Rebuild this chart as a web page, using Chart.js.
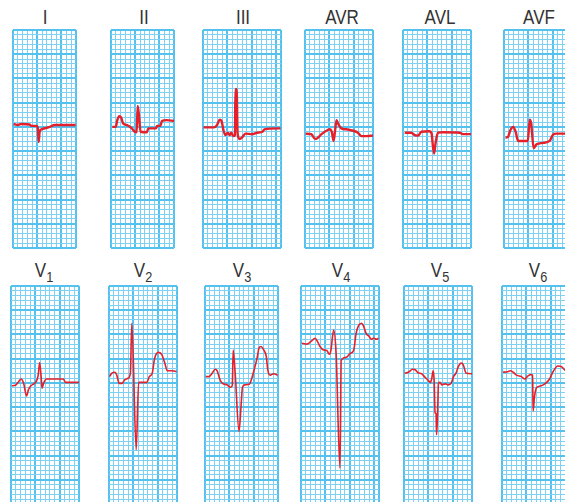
<!DOCTYPE html>
<html>
<head>
<meta charset="utf-8">
<script src="https://cdn.jsdelivr.net/npm/chart.js@4.4.1/dist/chart.umd.min.js"></script>
<style>
  html, body { margin: 0; padding: 0; background: #fff; }
  #page { position: relative; width: 565px; height: 502px; overflow: hidden; }
  .strip { position: absolute; }
  .lbl {
    position: absolute; width: 80px; text-align: center;
    font-family: "Liberation Sans", Arial, sans-serif;
    font-size: 20px; line-height: 20px; color: #333;
    transform: scaleX(0.85);
  }
  .lbl span { font-size: 15px; position: relative; top: 5px; }
</style>
</head>
<body>
<div id="page"></div>
<script>
// lead names
const topLeads = ['I', 'II', 'III', 'AVR', 'AVL', 'AVF'];
const chestLeads = ['1', '2', '3', '4', '5', '6'];

// traces: [mm along the strip, mm above the strip's bottom edge]
const leadI = [[0.15,25.6],[1.0,25.4],[1.7,25.6],[3.4,25.5],[3.8,25.2],[4.8,25.2],[5.1,24.9],[5.3,21.9],[5.5,24.0],[5.9,24.5],[6.9,24.8],[7.6,25.0],[8.6,25.4],[12.9,25.4]];
const leadII = [[0.27,25.0],[0.97,25.0],[1.3,26.4],[1.7,27.2],[2.1,26.9],[2.5,25.7],[3.2,25.4],[4.3,24.7],[4.9,24.0],[5.3,23.9],[5.5,29.3],[5.8,27.1],[6.1,24.0],[7.4,23.9],[7.7,24.7],[9.3,24.7],[9.5,25.2],[10.2,25.2],[10.5,26.2],[11.5,26.4],[13.0,26.2]];
const leadIII = [[0.1,24.9],[2.2,24.9],[2.9,25.4],[3.4,26.5],[3.8,26.2],[4.2,24.3],[4.6,23.3],[5.1,23.8],[5.5,23.3],[5.8,23.8],[6.2,23.1],[6.55,23.3],[6.65,32.8],[6.9,32.8],[7.1,23.6],[7.5,22.5],[8.0,22.8],[8.7,23.6],[10.1,23.5],[11.1,23.8],[12.2,24.0],[12.6,24.5],[15.9,24.7]];
const leadAVR = [[0.15,23.6],[1.3,23.5],[1.8,22.8],[2.2,22.5],[2.7,22.8],[3.4,23.5],[4.4,24.2],[5.1,24.5],[5.5,24.0],[5.9,22.1],[6.2,24.3],[6.5,26.4],[6.8,25.7],[7.5,24.7],[8.5,24.5],[9.9,24.2],[10.9,23.8],[11.6,23.1],[12.7,23.1],[14.0,23.2]];
const leadAVL = [[0.35,23.8],[1.7,23.8],[2.4,23.3],[3.1,23.2],[3.8,24.0],[5.4,24.1],[5.9,23.6],[6.1,21.6],[6.4,19.5],[6.7,21.6],[7.2,23.8],[8.2,23.9],[11.7,23.8],[12.4,23.5],[14.0,23.5]];
const leadAVF = [[0.3,22.8],[0.8,22.9],[1.3,24.3],[1.9,25.0],[2.4,24.0],[2.9,22.1],[3.9,22.1],[4.9,22.1],[5.3,26.5],[5.6,25.7],[6.1,20.6],[6.7,21.4],[8.0,21.7],[9.4,22.1],[10.1,23.4],[10.8,23.6],[14.0,23.6]];
const leadV1 = [[0.2,24.4],[0.9,24.5],[1.6,25.3],[2.1,25.8],[2.6,24.9],[3.2,22.3],[3.6,23.6],[4.1,24.4],[4.7,24.8],[5.2,25.3],[5.6,26.6],[5.9,29.2],[6.2,26.3],[6.4,23.9],[6.7,24.9],[7.3,25.8],[10.8,25.8],[11.2,25.1],[14.0,25.1]];
const leadV2 = [[0.1,26.3],[0.6,27.0],[1.2,27.2],[1.6,26.6],[2.1,24.9],[2.7,24.9],[3.2,25.6],[4.0,26.0],[4.4,27.0],[4.7,37.3],[5.6,11.2],[6.1,25.1],[7.8,25.1],[8.3,26.3],[8.9,27.0],[9.4,30.1],[10.2,31.3],[10.9,30.8],[11.6,28.7],[12.0,27.5],[13.0,27.5],[13.9,27.3]];
const leadV3 = [[0.15,26.3],[0.8,26.3],[1.4,26.9],[2.1,27.8],[2.5,27.5],[3.1,25.6],[3.6,24.9],[4.5,24.6],[5.2,24.1],[5.6,24.4],[5.8,31.8],[6.2,27.0],[7.0,15.0],[7.4,20.1],[7.7,24.1],[8.2,24.6],[9.1,24.7],[9.5,25.6],[10.1,27.7],[10.7,30.1],[11.1,32.2],[11.5,32.5],[12.0,31.9],[12.6,30.4],[12.9,27.7],[13.4,26.6],[14.1,26.9],[14.9,26.6]];
const leadV4 = [[0.15,33.2],[1.2,33.0],[2.0,33.5],[2.9,34.2],[3.4,33.5],[3.9,32.5],[4.6,31.8],[5.3,31.7],[5.8,30.9],[6.1,31.5],[6.7,35.9],[7.2,31.1],[8.0,7.4],[8.25,29.7],[9.3,30.3],[10.1,31.1],[10.8,31.7],[11.3,35.2],[11.8,36.8],[12.4,37.3],[12.8,36.8],[13.4,35.1],[13.9,34.7],[14.4,34.0],[14.9,34.2],[15.5,34.0],[15.9,34.2]];
const leadV5 = [[0.1,27.0],[0.9,27.2],[1.8,27.8],[2.3,27.7],[2.9,27.1],[3.6,26.9],[4.3,26.2],[5.0,25.5],[5.4,25.1],[5.7,25.8],[6.0,27.5],[6.2,25.6],[6.4,18.8],[6.6,18.6],[6.7,14.3],[6.9,18.1],[7.1,24.9],[7.4,25.1],[7.8,24.6],[8.5,24.8],[9.1,24.6],[9.7,24.9],[10.2,26.3],[10.7,27.0],[11.2,28.4],[11.8,29.1],[12.2,28.7],[12.8,27.0],[14.0,26.9]];
const leadV6 = [[0.2,27.2],[1.2,27.3],[1.7,27.5],[2.3,27.2],[3.0,26.6],[4.0,26.3],[4.7,25.8],[5.2,26.3],[5.9,26.7],[6.3,26.6],[6.4,19.2],[6.7,22.2],[7.1,24.0],[8.1,24.4],[9.2,25.1],[9.8,25.8],[10.5,27.3],[11.5,28.5],[12.2,28.4],[12.9,27.7],[13.9,27.2]];

const traces = [leadI, leadII, leadIII, leadAVR, leadAVL, leadAVF,
                leadV1, leadV2, leadV3, leadV4, leadV5, leadV6];

// layout (px), one entry per strip
const MM = 4.85;
const STRIP_MM_HIGH = 45;
const stripLeft = [13.3, 111, 202.7, 305.3, 403.3, 504.3, 10.7, 108.7, 205, 301, 404, 502.3];
const stripTop = [30, 30, 30, 30, 30, 30, 286, 286, 286, 286, 286, 286];
const stripWidthMM = [13, 13, 16, 14, 14, 14, 14, 14, 15, 16, 14, 14];
const labelCenter = [45, 144, 243, 342, 440, 539, 43.7, 143, 242, 341, 439.5, 538];

const MAJOR = '#55c1ee';
const MINOR = '#7fd1f3';
const TRACE = '#e5202a';

const page = document.getElementById('page');

function isMajor(ctx) {
    if (!ctx.tick) return false;
    return ctx.tick.value % 5 === 0 || ctx.index === ctx.scale.ticks.length - 1;
}

function paperAxis(max) {
    return {
        type: 'linear',
        min: 0,
        max: max,
        ticks: { display: false, stepSize: 1 },
        border: { display: false },
        grid: {
            drawTicks: false,
            color: ctx => isMajor(ctx) ? MAJOR : MINOR,
            lineWidth: ctx => isMajor(ctx) ? 2 : 1
        }
    };
}

traces.forEach((trace, i) => {
    const w = Math.round(stripWidthMM[i] * MM) + 2;
    const h = Math.round(STRIP_MM_HIGH * MM) + 2;

    const box = document.createElement('div');
    box.className = 'strip';
    box.style.left = (Math.round(stripLeft[i]) - 1) + 'px';
    box.style.top = (stripTop[i] - 1) + 'px';
    box.style.width = w + 'px';
    box.style.height = h + 'px';
    const canvas = document.createElement('canvas');
    canvas.width = w;
    canvas.height = h;
    box.appendChild(canvas);
    page.appendChild(box);

    new Chart(canvas.getContext('2d'), {
        type: 'line',
        data: {
            datasets: [{
                data: trace.map(([x, y]) => ({ x, y })),
                borderColor: TRACE,
                borderWidth: i < 6 ? 2.4 : 1.6,
                pointRadius: 0,
                cubicInterpolationMode: 'monotone',
                fill: false
            }]
        },
        options: {
            responsive: false,
            animation: false,
            devicePixelRatio: 1,
            layout: { padding: 1 },
            plugins: { legend: { display: false }, tooltip: { enabled: false } },
            scales: {
                x: paperAxis(stripWidthMM[i]),
                y: paperAxis(STRIP_MM_HIGH)
            }
        }
    });

    // lead label
    const lbl = document.createElement('div');
    lbl.className = 'lbl';
    lbl.style.left = (labelCenter[i] - 40) + 'px';
    if (i < 6) {
        lbl.style.top = '7px';
        lbl.textContent = topLeads[i];
    } else {
        lbl.style.top = '260px';
        lbl.innerHTML = 'V<span>' + chestLeads[i - 6] + '</span>';
    }
    page.appendChild(lbl);
});
</script>
</body>
</html>
